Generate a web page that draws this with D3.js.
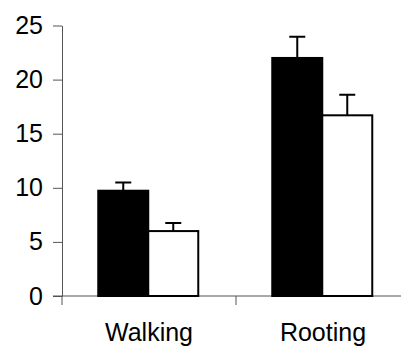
<!DOCTYPE html>
<html>
<head>
<meta charset="utf-8">
<script src="https://cdn.jsdelivr.net/npm/d3@7"></script>
<style>
  body { margin: 0; background: #fff; }
  text { font-family: "Liberation Sans", Arial, sans-serif; }
</style>
</head>
<body>
<div id="chart"></div>
<script>
var categories = ["Walking", "Rooting"];
var seriesNames = ["black", "white"];
var blackValues = [9.73, 22.0];
var whiteValues = [6.0, 16.7];
var blackErrors = [0.75, 1.95];
var whiteErrors = [0.75, 1.9];
var yTicks = [0, 5, 10, 15, 20, 25];

function init() {
    var w = 401;
    var h = 349;

    var svg = d3.select("#chart")
        .append("svg")
        .attr("width", w)
        .attr("height", h);

    var y = d3.scaleLinear().domain([0, 25]).range([296, 25.5]);
    var x = d3.scaleBand().domain(categories).range([62, 410]);
    var x1 = d3.scaleBand().domain(seriesNames).range([0, x.bandwidth()])
        .paddingOuter(0.74).align(0.49);

    var rows = [];
    categories.forEach(function(c, i) {
        rows.push({cat: c, s: "black", v: blackValues[i], e: blackErrors[i]});
        rows.push({cat: c, s: "white", v: whiteValues[i], e: whiteErrors[i]});
    });

    // y axis
    var yAxis = svg.append("g")
        .attr("transform", "translate(62,0)")
        .call(d3.axisLeft(y).tickValues(yTicks).tickSize(9).tickPadding(10).tickSizeOuter(0));
    yAxis.select(".domain").attr("stroke", "#555");
    yAxis.selectAll(".tick line").attr("stroke", "#555");
    yAxis.selectAll(".tick text")
        .attr("font-size", "25px")
        .attr("fill", "#000");

    // x axis line and boundary ticks
    svg.append("line")
        .attr("x1", 53).attr("x2", w)
        .attr("y1", y(0)).attr("y2", y(0))
        .attr("stroke", "#555");
    var bounds = categories.map(function(c) { return x(c); }).concat([x.range()[1]]);
    svg.selectAll(".xtick")
        .data(bounds)
        .enter()
        .append("line")
        .attr("x1", function(d) { return d; })
        .attr("x2", function(d) { return d; })
        .attr("y1", y(0))
        .attr("y2", y(0) + 9)
        .attr("stroke", "#555");

    svg.selectAll(".xlabel")
        .data(categories)
        .enter()
        .append("text")
        .text(function(d) { return d; })
        .attr("x", function(d) { return x(d) + x.bandwidth() / 2; })
        .attr("y", 341)
        .attr("text-anchor", "middle")
        .attr("font-size", "25px");

    // error bars
    svg.selectAll(".err")
        .data(rows)
        .enter()
        .append("path")
        .attr("d", function(d) {
            var cx = x(d.cat) + x1(d.s) + x1.bandwidth() / 2;
            var top = y(d.v + d.e);
            return "M" + cx + "," + y(d.v) + "V" + top + "M" + (cx - 8) + "," + top + "H" + (cx + 8);
        })
        .attr("stroke", "#000")
        .attr("stroke-width", 2)
        .attr("fill", "none");

    // bars
    svg.selectAll(".bar")
        .data(rows)
        .enter()
        .append("rect")
        .attr("x", function(d) { return x(d.cat) + x1(d.s); })
        .attr("y", function(d) { return y(d.v); })
        .attr("width", x1.bandwidth())
        .attr("height", function(d) { return y(0) - y(d.v); })
        .attr("fill", function(d) { return d.s === "black" ? "#000" : "#fff"; })
        .attr("stroke", "#000")
        .attr("stroke-width", 2);
}

window.onload = init;
</script>
</body>
</html>
